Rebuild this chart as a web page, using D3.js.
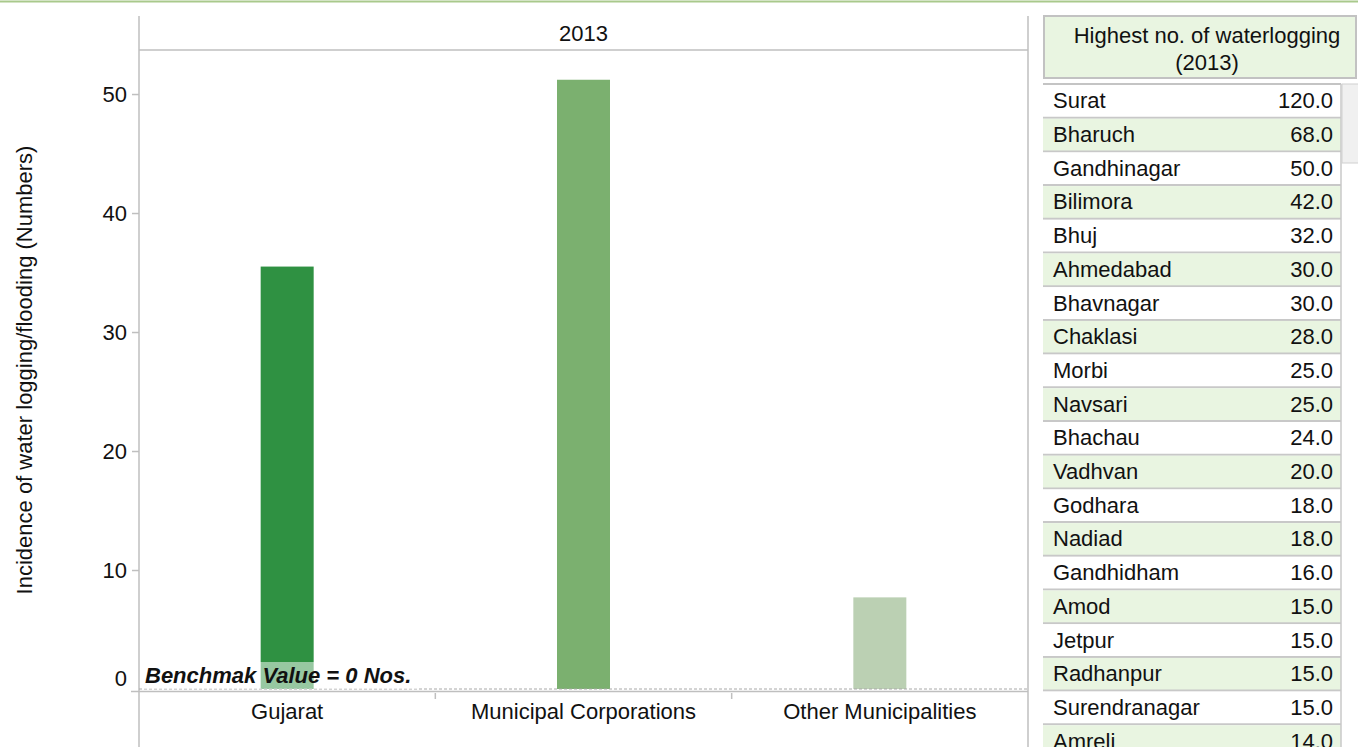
<!DOCTYPE html>
<html><head><meta charset="utf-8">
<script src="https://cdn.jsdelivr.net/npm/d3@7/dist/d3.min.js"></script>
<style>
html,body{margin:0;padding:0;background:#fff;}
svg{display:block;font-family:Arial,"Liberation Sans",sans-serif;}
</style></head>
<body>
<svg id="chart" width="1358" height="747"></svg>
<script>
const categories = ["Gujarat", "Municipal Corporations", "Other Municipalities"];
const values = [35.5, 51.2, 7.7];
const barColors = ["#2f9142", "#7bb06f", "#bbd0b3"];
const yTicks = [0, 10, 20, 30, 40, 50];
const yearLabel = "2013";
const yTitle = "Incidence of water logging/flooding (Numbers)";
const benchmarkText = "Benchmak Value = 0 Nos.";
const tableTitle = ["Highest no. of waterlogging", "(2013)"];
const cities = ["Surat","Bharuch","Gandhinagar","Bilimora","Bhuj","Ahmedabad","Bhavnagar","Chaklasi","Morbi","Navsari","Bhachau","Vadhvan","Godhara","Nadiad","Gandhidham","Amod","Jetpur","Radhanpur","Surendranagar","Amreli"];
const cityValues = [120,68,50,42,32,30,30,28,25,25,24,20,18,18,16,15,15,15,15,14];

const svg = d3.select("#chart");
const FS = 22;
const grey = "#bfbfbf";

// top green border
svg.append("line").attr("x1",0).attr("x2",1358).attr("y1",1.5).attr("y2",1.5)
  .attr("stroke","#a9c98c").attr("stroke-width",2);

const x = d3.scaleBand().domain(categories).range([139, 1028]);
const y = d3.scaleLinear().domain([0, 53.7]).range([689, 50]);

// frame lines
svg.append("line").attr("x1",139).attr("x2",139).attr("y1",16).attr("y2",747).attr("stroke",grey).attr("stroke-width",1.5);
svg.append("line").attr("x1",1028).attr("x2",1028).attr("y1",16).attr("y2",747).attr("stroke",grey).attr("stroke-width",1.5);
svg.append("line").attr("x1",139).attr("x2",1028).attr("y1",50).attr("y2",50).attr("stroke",grey).attr("stroke-width",1.5);

svg.append("text").attr("x",(139+1028)/2).attr("y",33).attr("text-anchor","middle")
  .attr("dominant-baseline","central").attr("font-size",FS).attr("fill","#111").text(yearLabel);

// y axis
const yAxis = d3.axisLeft(y).tickValues(yTicks).tickSize(7).tickPadding(5).tickFormat(d3.format("d"));
const ga = svg.append("g").attr("transform","translate(139,0)").call(yAxis);
ga.select(".domain").remove();
ga.selectAll(".tick line").attr("stroke",grey).attr("stroke-width",1.5);
ga.selectAll(".tick").filter(d => d === 0).select("line").remove();
ga.selectAll(".tick").filter(d => d === 0).select("text").attr("dy","-0.15em");
ga.selectAll(".tick text").attr("font-size",FS).attr("fill","#111").attr("font-family","Arial, 'Liberation Sans', sans-serif");

svg.append("text").attr("transform","translate(24,370) rotate(-90)").attr("text-anchor","middle")
  .attr("dominant-baseline","central").attr("font-size",FS).attr("fill","#111").text(yTitle);

// bars
const bw = 53;
svg.selectAll("rect.bar").data(categories).enter().append("rect").attr("class","bar")
  .attr("x", d => x(d) + x.bandwidth()/2 - bw/2)
  .attr("width", bw)
  .attr("y", (d,i) => y(values[i]))
  .attr("height", (d,i) => y(0) - y(values[i]))
  .attr("fill", (d,i) => barColors[i]);

// baseline lines
svg.append("line").attr("x1",139).attr("x2",1028).attr("y1",689).attr("y2",689)
  .attr("stroke","#a8a8a8").attr("stroke-width",1).attr("stroke-dasharray","3,2");
svg.append("line").attr("x1",131).attr("x2",1028).attr("y1",691.5).attr("y2",691.5)
  .attr("stroke",grey).attr("stroke-width",1.5);

// benchmark label
svg.append("rect").attr("x",143).attr("y",662).attr("width",275).attr("height",27)
  .attr("fill","#fff").attr("fill-opacity",0.5);
svg.append("text").attr("x",145).attr("y",683).attr("font-size",FS).attr("font-weight","bold")
  .attr("font-style","italic").attr("fill","#111").text(benchmarkText);

// category axis
categories.forEach((c,i) => {
  if (i > 0) {
    svg.append("line").attr("x1",x(c)).attr("x2",x(c)).attr("y1",693).attr("y2",699)
      .attr("stroke",grey).attr("stroke-width",1.5);
  }
});
svg.selectAll("text.cat").data(categories).enter().append("text").attr("class","cat")
  .attr("x", d => x(d) + x.bandwidth()/2).attr("y",711).attr("text-anchor","middle")
  .attr("dominant-baseline","central").attr("font-size",FS).attr("fill","#111").text(d => d);

// table
svg.append("rect").attr("x",1044).attr("y",16).attr("width",312).attr("height",62)
  .attr("fill","#e9f5e1").attr("stroke","#c2c2c2").attr("stroke-width",2);
tableTitle.forEach((t,i) => {
  svg.append("text").attr("x",1207).attr("y",35 + i*27).attr("text-anchor","middle")
    .attr("dominant-baseline","central").attr("font-size",FS).attr("fill","#111").text(t);
});

const rowY = d3.scaleBand().domain(d3.range(cities.length)).range([84, 84 + 33.7*cities.length]);
const tx0 = 1043, tx1 = 1341;
svg.append("line").attr("x1",tx0).attr("x2",tx1).attr("y1",84).attr("y2",84).attr("stroke","#c4c4c4").attr("stroke-width",2);
const rows = svg.selectAll("g.row").data(cities).enter().append("g").attr("class","row")
  .attr("transform",(d,i) => `translate(0,${rowY(i)})`);
rows.append("rect").attr("x",tx0).attr("y",1).attr("width",tx1-tx0).attr("height",rowY.bandwidth()-1)
  .attr("fill",(d,i) => i % 2 === 1 ? "#e9f5e1" : "#fff");
rows.append("line").attr("x1",tx0).attr("x2",tx1).attr("y1",rowY.bandwidth()).attr("y2",rowY.bandwidth())
  .attr("stroke","#c8c8c8").attr("stroke-width",2);
rows.append("text").attr("x",1053).attr("y",rowY.bandwidth()/2).attr("dominant-baseline","central")
  .attr("font-size",FS).attr("fill","#111").text(d => d);
rows.append("text").attr("x",1333).attr("y",rowY.bandwidth()/2).attr("dominant-baseline","central")
  .attr("text-anchor","end").attr("font-size",FS).attr("fill","#111").text((d,i) => d3.format(".1f")(cityValues[i]));
svg.append("line").attr("x1",tx1).attr("x2",tx1).attr("y1",84).attr("y2",747).attr("stroke","#c8c8c8").attr("stroke-width",1.5);

// scrollbar thumb
svg.append("rect").attr("x",1342).attr("y",84).attr("width",17).attr("height",79)
  .attr("fill","#f0f0f0").attr("stroke","#d0d0d0").attr("stroke-width",1);
</script>
</body></html>
